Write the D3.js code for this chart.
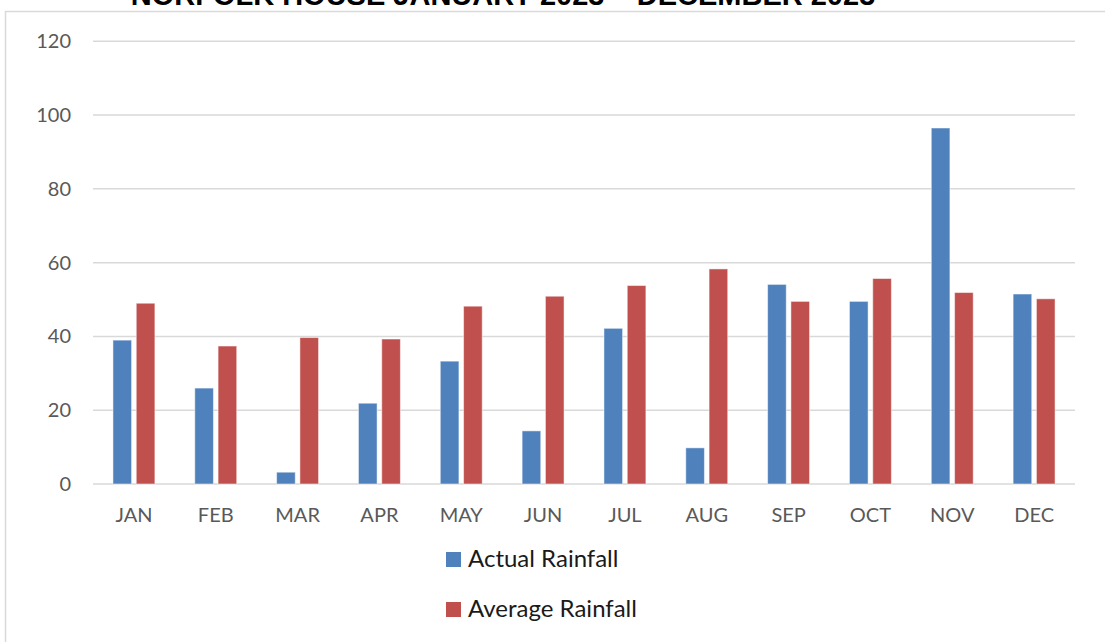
<!DOCTYPE html>
<html>
<head>
<meta charset="utf-8">
<script src="https://cdn.jsdelivr.net/npm/d3@7"></script>
<style>
  html, body { margin: 0; padding: 0; background: #fff; }
  svg { display: block; }
</style>
</head>
<body>
<svg id="chart" width="1105" height="642"></svg>
<script>
// Monthly rainfall, Norfolk House
const months = ["JAN","FEB","MAR","APR","MAY","JUN","JUL","AUG","SEP","OCT","NOV","DEC"];
const actualRainfall  = [39.0, 26.0, 3.2, 21.9, 33.3, 14.4, 42.2, 9.8, 54.1, 49.5, 96.5, 51.5];
const averageRainfall = [49.0, 37.4, 39.7, 39.3, 48.2, 50.9, 53.8, 58.3, 49.5, 55.7, 51.9, 50.2];
const seriesNames = ["Actual Rainfall", "Average Rainfall"];
const seriesColors = ["#4f81bd", "#c0504d"];
const yTicks = [0, 20, 40, 60, 80, 100, 120];
const titleText = "NORFOLK HOUSE JANUARY 2023 \u2013 DECEMBER 2023";

const svg = d3.select("#chart");

// chart frame
svg.append("rect")
  .attr("x", 5.5).attr("y", 11.5)
  .attr("width", 1200).attr("height", 700)
  .attr("fill", "none").attr("stroke", "#d9d9d9").attr("stroke-width", 1.5);

// title (runs off the top of the frame)
svg.append("text")
  .attr("x", 503).attr("y", 5)
  .attr("text-anchor", "middle")
  .attr("font-family", "Liberation Sans, Arial, sans-serif")
  .attr("font-weight", "bold")
  .attr("font-size", 29)
  .attr("fill", "#000")
  .text(titleText);

const x0 = d3.scaleBand().domain(months).range([93, 1075]).padding(0);
const x1 = d3.scaleBand().domain(seriesNames).range([0, x0.bandwidth()])
  .paddingInner(0.2).paddingOuter(0.856);
const y = d3.scaleLinear().domain([0, 120]).range([484, 41.3]);

// gridlines
svg.append("g").selectAll("line").data(yTicks).join("line")
  .attr("x1", 93).attr("x2", 1075)
  .attr("y1", d => y(d)).attr("y2", d => y(d))
  .attr("stroke", "#d9d9d9").attr("stroke-width", 1.5);

// y axis labels
const yAxis = d3.axisLeft(y).tickValues(yTicks).tickSize(0).tickPadding(0);
const gy = svg.append("g").attr("transform", "translate(71,0)").call(yAxis);
gy.select(".domain").remove();
gy.selectAll("text")
  .attr("font-family", "Lato, sans-serif")
  .attr("font-size", 20)
  .attr("fill", "#595959");

// x axis labels
const xAxis = d3.axisBottom(x0).tickSize(0).tickPadding(0);
const gx = svg.append("g").attr("transform", "translate(0,508)").call(xAxis);
gx.select(".domain").remove();
gx.selectAll("text")
  .attr("font-family", "Lato, sans-serif")
  .attr("font-size", 20)
  .attr("fill", "#595959");

// bars
const rows = months.map((m, i) => ({
  month: m,
  values: [
    { series: seriesNames[0], value: actualRainfall[i], color: seriesColors[0] },
    { series: seriesNames[1], value: averageRainfall[i], color: seriesColors[1] }
  ]
}));

svg.append("g").selectAll("g").data(rows).join("g")
  .attr("transform", d => `translate(${x0(d.month)},0)`)
  .selectAll("rect").data(d => d.values).join("rect")
  .attr("x", d => x1(d.series))
  .attr("width", x1.bandwidth())
  .attr("y", d => y(d.value))
  .attr("height", d => y(0) - y(d.value))
  .attr("fill", d => d.color)
  .attr("stroke", "#ffffff").attr("stroke-opacity", 0.5).attr("stroke-width", 1);

// legend
const legend = svg.append("g").selectAll("g").data(seriesNames).join("g")
  .attr("transform", (d, i) => `translate(446,${552 + i * 50})`);
legend.append("rect")
  .attr("width", 15).attr("height", 15)
  .attr("fill", (d, i) => seriesColors[i]);
legend.append("text")
  .attr("x", 22).attr("y", 14.5)
  .attr("font-family", "Lato, sans-serif")
  .attr("font-size", 24)
  .attr("fill", "#1a1a1a")
  .text(d => d);
</script>
</body>
</html>
